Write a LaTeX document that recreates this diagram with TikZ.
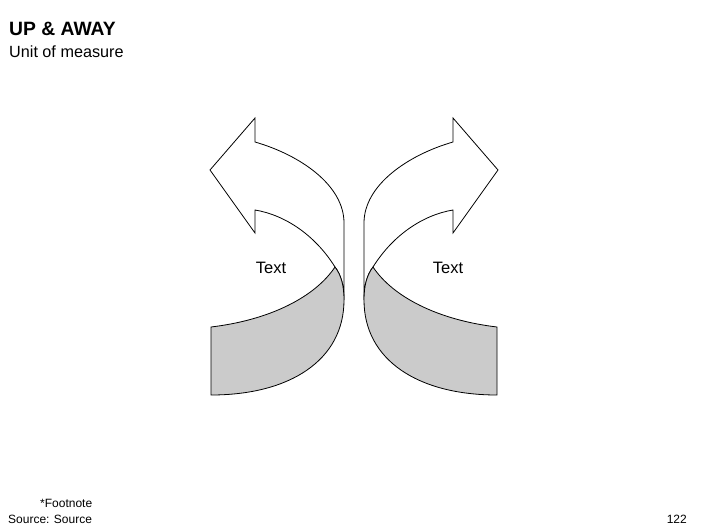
\documentclass[tikz,border=0pt]{standalone}
\usepackage{fontspec}
\setmainfont{Liberation Sans}
\definecolor{bandgray}{HTML}{CBCBCB}
\begin{document}
\begin{tikzpicture}[x=1pt,y=-1pt,
  outline/.style={draw=black, line width=0.8pt, line join=miter},
  frontface/.style={outline, fill=white},
  backface/.style={outline, fill=bandgray},
  lbl/.style={inner sep=0pt, font=\fontsize{16.5}{19}\selectfont},
  foot/.style={inner sep=0pt, anchor=west, font=\fontsize{12}{14}\selectfont}]
\useasboundingbox (0,0) rectangle (706,529);

% title
\node[inner sep=0pt, anchor=west, font=\fontsize{19.3}{22}\selectfont\bfseries] (title) at (9,29) {UP \& AWAY};
\node[inner sep=0pt, anchor=west, font=\fontsize{16.2}{19}\selectfont] (subtitle) at (9,52) {Unit of measure};

% two U-turn arrows, mirrored about x=354
\foreach \sx in {1,-1} {
\begin{scope}[shift={(354,0)}, xscale=\sx]
  \path[frontface] (-99,142) .. controls (-54,155) and (-10,185) .. (-10,223)
    -- (-10,300) .. controls (-10,285) and (-13,275) .. (-19,267)
    .. controls (-39,235) and (-69,215) .. (-99,210)
    -- (-99,233) -- (-144,170) -- (-99,118) -- cycle;
  \path[backface] (-143,327) .. controls (-84,320) and (-39,297) .. (-19,267)
    .. controls (-13,275) and (-10,285) .. (-10,300)
    .. controls (-10,360) and (-64,395) .. (-143,395) -- cycle;
\end{scope}
}

\node[lbl] (textL) at (271,268) {Text};
\node[lbl] (textR) at (448,268) {Text};

% footer
\node[foot] (footnote) at (40,503) {*Footnote};
\node[foot] (source) at (8,519) {Source: Source};
\node[inner sep=0pt, anchor=east, font=\fontsize{12}{14}\selectfont] (page) at (687,519) {122};
\end{tikzpicture}
\end{document}
